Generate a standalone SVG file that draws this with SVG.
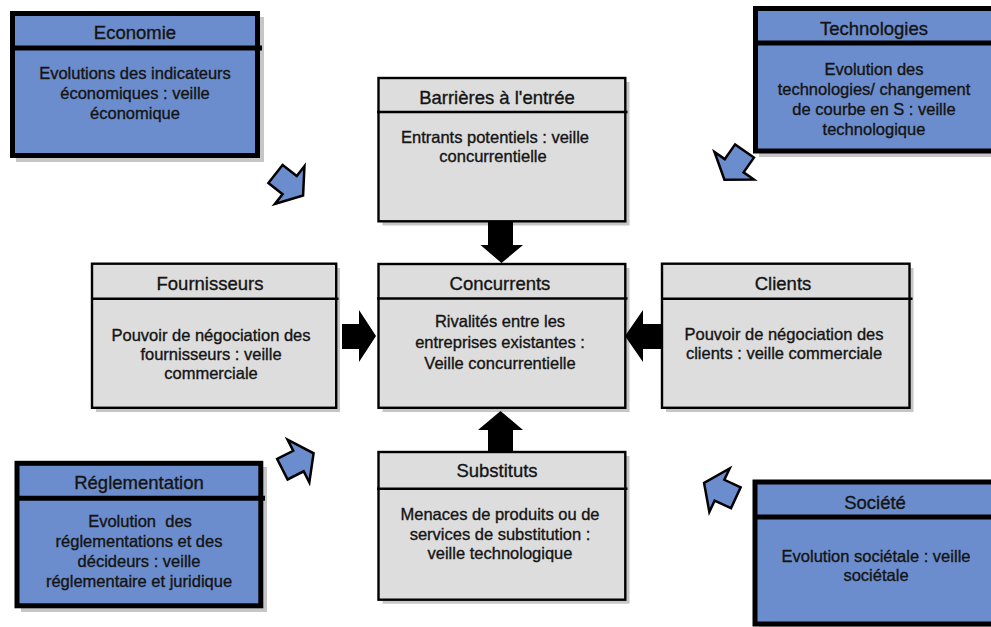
<svg xmlns="http://www.w3.org/2000/svg" width="991" height="627" viewBox="0 0 991 627">
<defs>
<style>
text{font-family:"Liberation Sans",Arial,sans-serif;fill:#141414;stroke:#141414;stroke-width:0.35;text-anchor:middle}
.t{font-size:18.5px}
.b{font-size:16.5px}
.shadow{fill:#c6c6c6}
.gbox{fill:#dddddd;stroke:#000;stroke-width:2.4}
.gline{stroke:#000;stroke-width:2.4}
.bbox{fill:#6c8dcd;stroke:#000;stroke-width:5}
.bline{stroke:#000;stroke-width:5}
.blk{fill:#000}
.barr{fill:#6c8dcd;stroke:#000;stroke-width:2.5;stroke-linejoin:miter}
</style>
<polygon id="ba" points="0,-11.5 18,-11.5 18,-24 35,0 18,24 18,11.5 0,11.5"/>
</defs>
<rect width="991" height="627" fill="#fff"/>

<g id="economie">
<rect class="shadow" x="16" y="17" width="248" height="145"/>
<rect class="bbox" x="12.5" y="13.5" width="245" height="142"/>
<line class="bline" x1="12.5" y1="48" x2="262" y2="48"/>
<text class="t" x="135" y="39">Economie</text>
<text class="b" x="135" y="79">Evolutions des indicateurs</text>
<text class="b" x="135" y="99">économiques : veille</text>
<text class="b" x="135" y="119">économique</text>
</g>

<g id="technologies">
<rect class="shadow" x="759" y="12" width="250" height="145"/>
<rect class="bbox" x="755.5" y="8.5" width="250" height="142.5"/>
<line class="bline" x1="755.5" y1="43" x2="1005" y2="43"/>
<text class="t" x="874" y="34.5">Technologies</text>
<text class="b" x="874" y="75">Evolution des</text>
<text class="b" x="874" y="95">technologies/ changement</text>
<text class="b" x="874" y="115">de courbe en S : veille</text>
<text class="b" x="874" y="135">technologique</text>
</g>

<g id="reglementation">
<rect class="shadow" x="21" y="467" width="246" height="145"/>
<rect class="bbox" x="17" y="463.3" width="243.8" height="142.5"/>
<line class="bline" x1="17" y1="498.3" x2="265" y2="498.3"/>
<text class="t" x="139" y="488.5">Réglementation</text>
<text class="b" x="140" y="527" xml:space="preserve">Evolution  des</text>
<text class="b" x="139" y="547">réglementations et des</text>
<text class="b" x="139" y="567">décideurs : veille</text>
<text class="b" x="139" y="587">réglementaire et juridique</text>
</g>

<g id="societe">
<rect class="shadow" x="759" y="486" width="250" height="150"/>
<rect class="bbox" x="755" y="482" width="250" height="142"/>
<line class="bline" x1="755" y1="517" x2="1005" y2="517"/>
<text class="t" x="875" y="508.5">Société</text>
<text class="b" x="876" y="562">Evolution sociétale : veille</text>
<text class="b" x="876" y="580.5">sociétale</text>
</g>

<g id="barrieres">
<rect class="shadow" x="382.5" y="82" width="247" height="143.5"/>
<rect class="gbox" x="378.5" y="78" width="246.8" height="143.3"/>
<line class="gline" x1="377" y1="112" x2="627.5" y2="112"/>
<text class="t" x="497" y="103.5">Barrières à l'entrée</text>
<text class="b" x="495" y="143">Entrants potentiels : veille</text>
<text class="b" x="493" y="162">concurrentielle</text>
</g>

<g id="concurrents">
<rect class="shadow" x="382.5" y="268" width="247" height="144"/>
<rect class="gbox" x="378.5" y="264" width="246.8" height="143.8"/>
<line class="gline" x1="377" y1="298.5" x2="627.5" y2="298.5"/>
<text class="t" x="500" y="290">Concurrents</text>
<text class="b" x="500" y="327">Rivalités entre les</text>
<text class="b" x="500" y="347.5">entreprises existantes :</text>
<text class="b" x="500" y="368.5">Veille concurrentielle</text>
</g>

<g id="fournisseurs">
<rect class="shadow" x="96" y="268" width="244" height="144"/>
<rect class="gbox" x="92" y="263.7" width="244.2" height="144.1"/>
<line class="gline" x1="91" y1="298.7" x2="338.5" y2="298.7"/>
<text class="t" x="210" y="290">Fournisseurs</text>
<text class="b" x="211" y="340.5">Pouvoir de négociation des</text>
<text class="b" x="211" y="360">fournisseurs : veille</text>
<text class="b" x="211" y="379">commerciale</text>
</g>

<g id="clients">
<rect class="shadow" x="666" y="268" width="247.5" height="144"/>
<rect class="gbox" x="662" y="263.7" width="247.5" height="144.1"/>
<line class="gline" x1="661" y1="298.7" x2="912.5" y2="298.7"/>
<text class="t" x="783" y="290">Clients</text>
<text class="b" x="784" y="340">Pouvoir de négociation des</text>
<text class="b" x="784" y="358.5">clients : veille commerciale</text>
</g>

<g id="substituts">
<rect class="shadow" x="382.5" y="456" width="247" height="147.7"/>
<rect class="gbox" x="378.5" y="452" width="246.8" height="147.7"/>
<line class="gline" x1="377" y1="488.7" x2="627.5" y2="488.7"/>
<text class="t" x="497" y="476.5">Substituts</text>
<text class="b" x="500" y="520">Menaces de produits ou de</text>
<text class="b" x="500" y="539.5">services de substitution :</text>
<text class="b" x="500" y="558.5">veille technologique</text>
</g>

<g id="connectors">
<polygon class="blk" points="488,222 513,222 513,245 523,245 501.5,263 480.5,245 488,245"/>
<polygon class="blk" points="500.5,411 523,430 513,430 513,451 488,451 488,430 478,430"/>
<polygon class="blk" points="342,324 359,324 359,310 376,336 359,362 359,349 342,349"/>
<polygon class="blk" points="662,324 643,324 643,310 625,336 643,362 643,349 662,349"/>
<use href="#ba" class="barr" transform="translate(275.5,174) rotate(38)"/>
<use href="#ba" class="barr" transform="translate(744.5,151) rotate(125)"/>
<use href="#ba" class="barr" transform="translate(282.4,469.2) rotate(-27)"/>
<use href="#ba" class="barr" transform="translate(735.8,497.8) rotate(205)"/>
</g>
</svg>
